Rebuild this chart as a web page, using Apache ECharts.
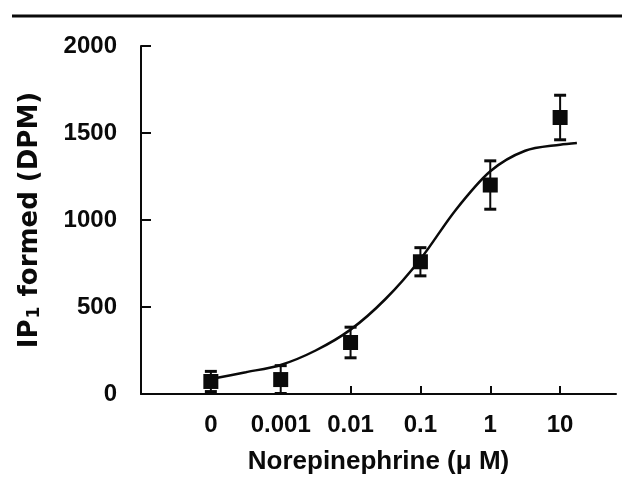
<!DOCTYPE html>
<html>
<head>
<meta charset="utf-8">
<script src="https://cdn.jsdelivr.net/npm/echarts@6/dist/echarts.min.js"></script>
<style>
html,body{margin:0;padding:0;background:#fff;}
#c{width:622px;height:491px;}
</style>
</head>
<body>
<div id="c"></div>
<script>
// Data
var xLabels = ['0', '0.001', '0.01', '0.1', '1', '10'];   // log-spaced concentration categories (µM)
var xPos = [0, 1, 2, 3, 4, 5];                            // position of each category on the log axis
var meanIP1 = [72, 83, 296, 760, 1201, 1589];             // mean IP1 formed (DPM)
var errIP1 = [58, 80, 88, 81, 139, 128];                   // error bar half-size (DPM)
// fitted curve at half-decade steps
var fitX = [0, 0.5, 1.0, 1.5, 2.0, 2.5, 3.0, 3.5, 4.0, 4.5, 5.0, 5.24];
var fitY = [86, 125, 167, 250, 370, 546, 775, 1055, 1280, 1398, 1433, 1443];
var yTicks = [0, 500, 1000, 1500, 2000];

var font = 'Liberation Sans, Arial, Helvetica, sans-serif';
var ink = '#0a0a0a';

var points = xPos.map(function (x, i) { return [x, meanIP1[i]]; });
var bars = xPos.map(function (x, i) { return [x, meanIP1[i] - errIP1[i], meanIP1[i] + errIP1[i]]; });
var curve = fitX.map(function (x, i) { return [x, fitY[i]]; });

var chart = echarts.init(document.getElementById('c'), null, {renderer: 'canvas'});
chart.setOption({
  backgroundColor: '#fff',
  animation: false,
  graphic: [{
    type: 'line',
    shape: {x1: 12, y1: 16, x2: 622, y2: 16},
    style: {stroke: ink, lineWidth: 3}
  }],
  grid: {left: 141, right: 6, top: 46, bottom: 97, containLabel: false},
  xAxis: {
    type: 'value', min: -1, max: 5.8, interval: 1,
    axisLine: {show: true, onZero: false, lineStyle: {color: ink, width: 2}},
    axisTick: {show: true, inside: true, length: 8, customValues: [2, 3, 4, 5], lineStyle: {color: ink, width: 2}},
    splitLine: {show: false},
    axisLabel: {
      customValues: xPos, margin: 19, color: ink, fontFamily: font, fontWeight: 'bold', fontSize: 24,
      formatter: function (v) { var i = Math.round(v); return (i >= 0 && i < xLabels.length) ? xLabels[i] : ''; }
    },
    name: 'Norepinephrine (\u03bc M)', nameLocation: 'middle', nameGap: 55,
    nameTextStyle: {color: ink, fontFamily: font, fontWeight: 'bold', fontSize: 26}
  },
  yAxis: {
    type: 'value', min: 0, max: 2000, interval: 500,
    axisLine: {show: true, onZero: false, lineStyle: {color: ink, width: 2}},
    axisTick: {show: true, inside: true, length: 10, lineStyle: {color: ink, width: 2}},
    splitLine: {show: false},
    axisLabel: {margin: 24, color: ink, fontFamily: font, fontWeight: 'bold', fontSize: 24,
      formatter: function (v) { return String(v); }},
    name: '{a|IP}{b|1}{a| formed (DPM)}', nameLocation: 'middle', nameGap: 98, nameRotate: 90,
    nameTextStyle: {
      rich: {
        a: {color: ink, fontFamily: 'DejaVu Sans, sans-serif', fontWeight: 'bold', fontSize: 26, lineHeight: 30, verticalAlign: 'bottom'},
        b: {color: ink, fontFamily: 'DejaVu Sans, sans-serif', fontWeight: 'bold', fontSize: 17, lineHeight: 30, verticalAlign: 'bottom', padding: [0, 1, 0, 1]}
      }
    }
  },
  series: [
    {
      type: 'line', data: curve, smooth: 0.3, showSymbol: false, symbol: 'none',
      lineStyle: {color: ink, width: 2.5}, z: 3
    },
    {
      type: 'custom', data: bars, z: 4,
      renderItem: function (params, api) {
        var x = api.value(0);
        var lo = api.coord([x, api.value(1)]);
        var hi = api.coord([x, api.value(2)]);
        var w = 6;
        return {
          type: 'group',
          children: [
            {type: 'line', shape: {x1: lo[0], y1: lo[1], x2: hi[0], y2: hi[1]}, style: {stroke: ink, lineWidth: 2}},
            {type: 'line', shape: {x1: lo[0] - w, y1: lo[1], x2: lo[0] + w, y2: lo[1]}, style: {stroke: ink, lineWidth: 3}},
            {type: 'line', shape: {x1: hi[0] - w, y1: hi[1], x2: hi[0] + w, y2: hi[1]}, style: {stroke: ink, lineWidth: 3}}
          ]
        };
      }
    },
    {
      type: 'scatter', data: points, symbol: 'rect', symbolSize: 15, z: 5,
      itemStyle: {color: ink, opacity: 1}
    }
  ]
});
</script>
</body>
</html>
